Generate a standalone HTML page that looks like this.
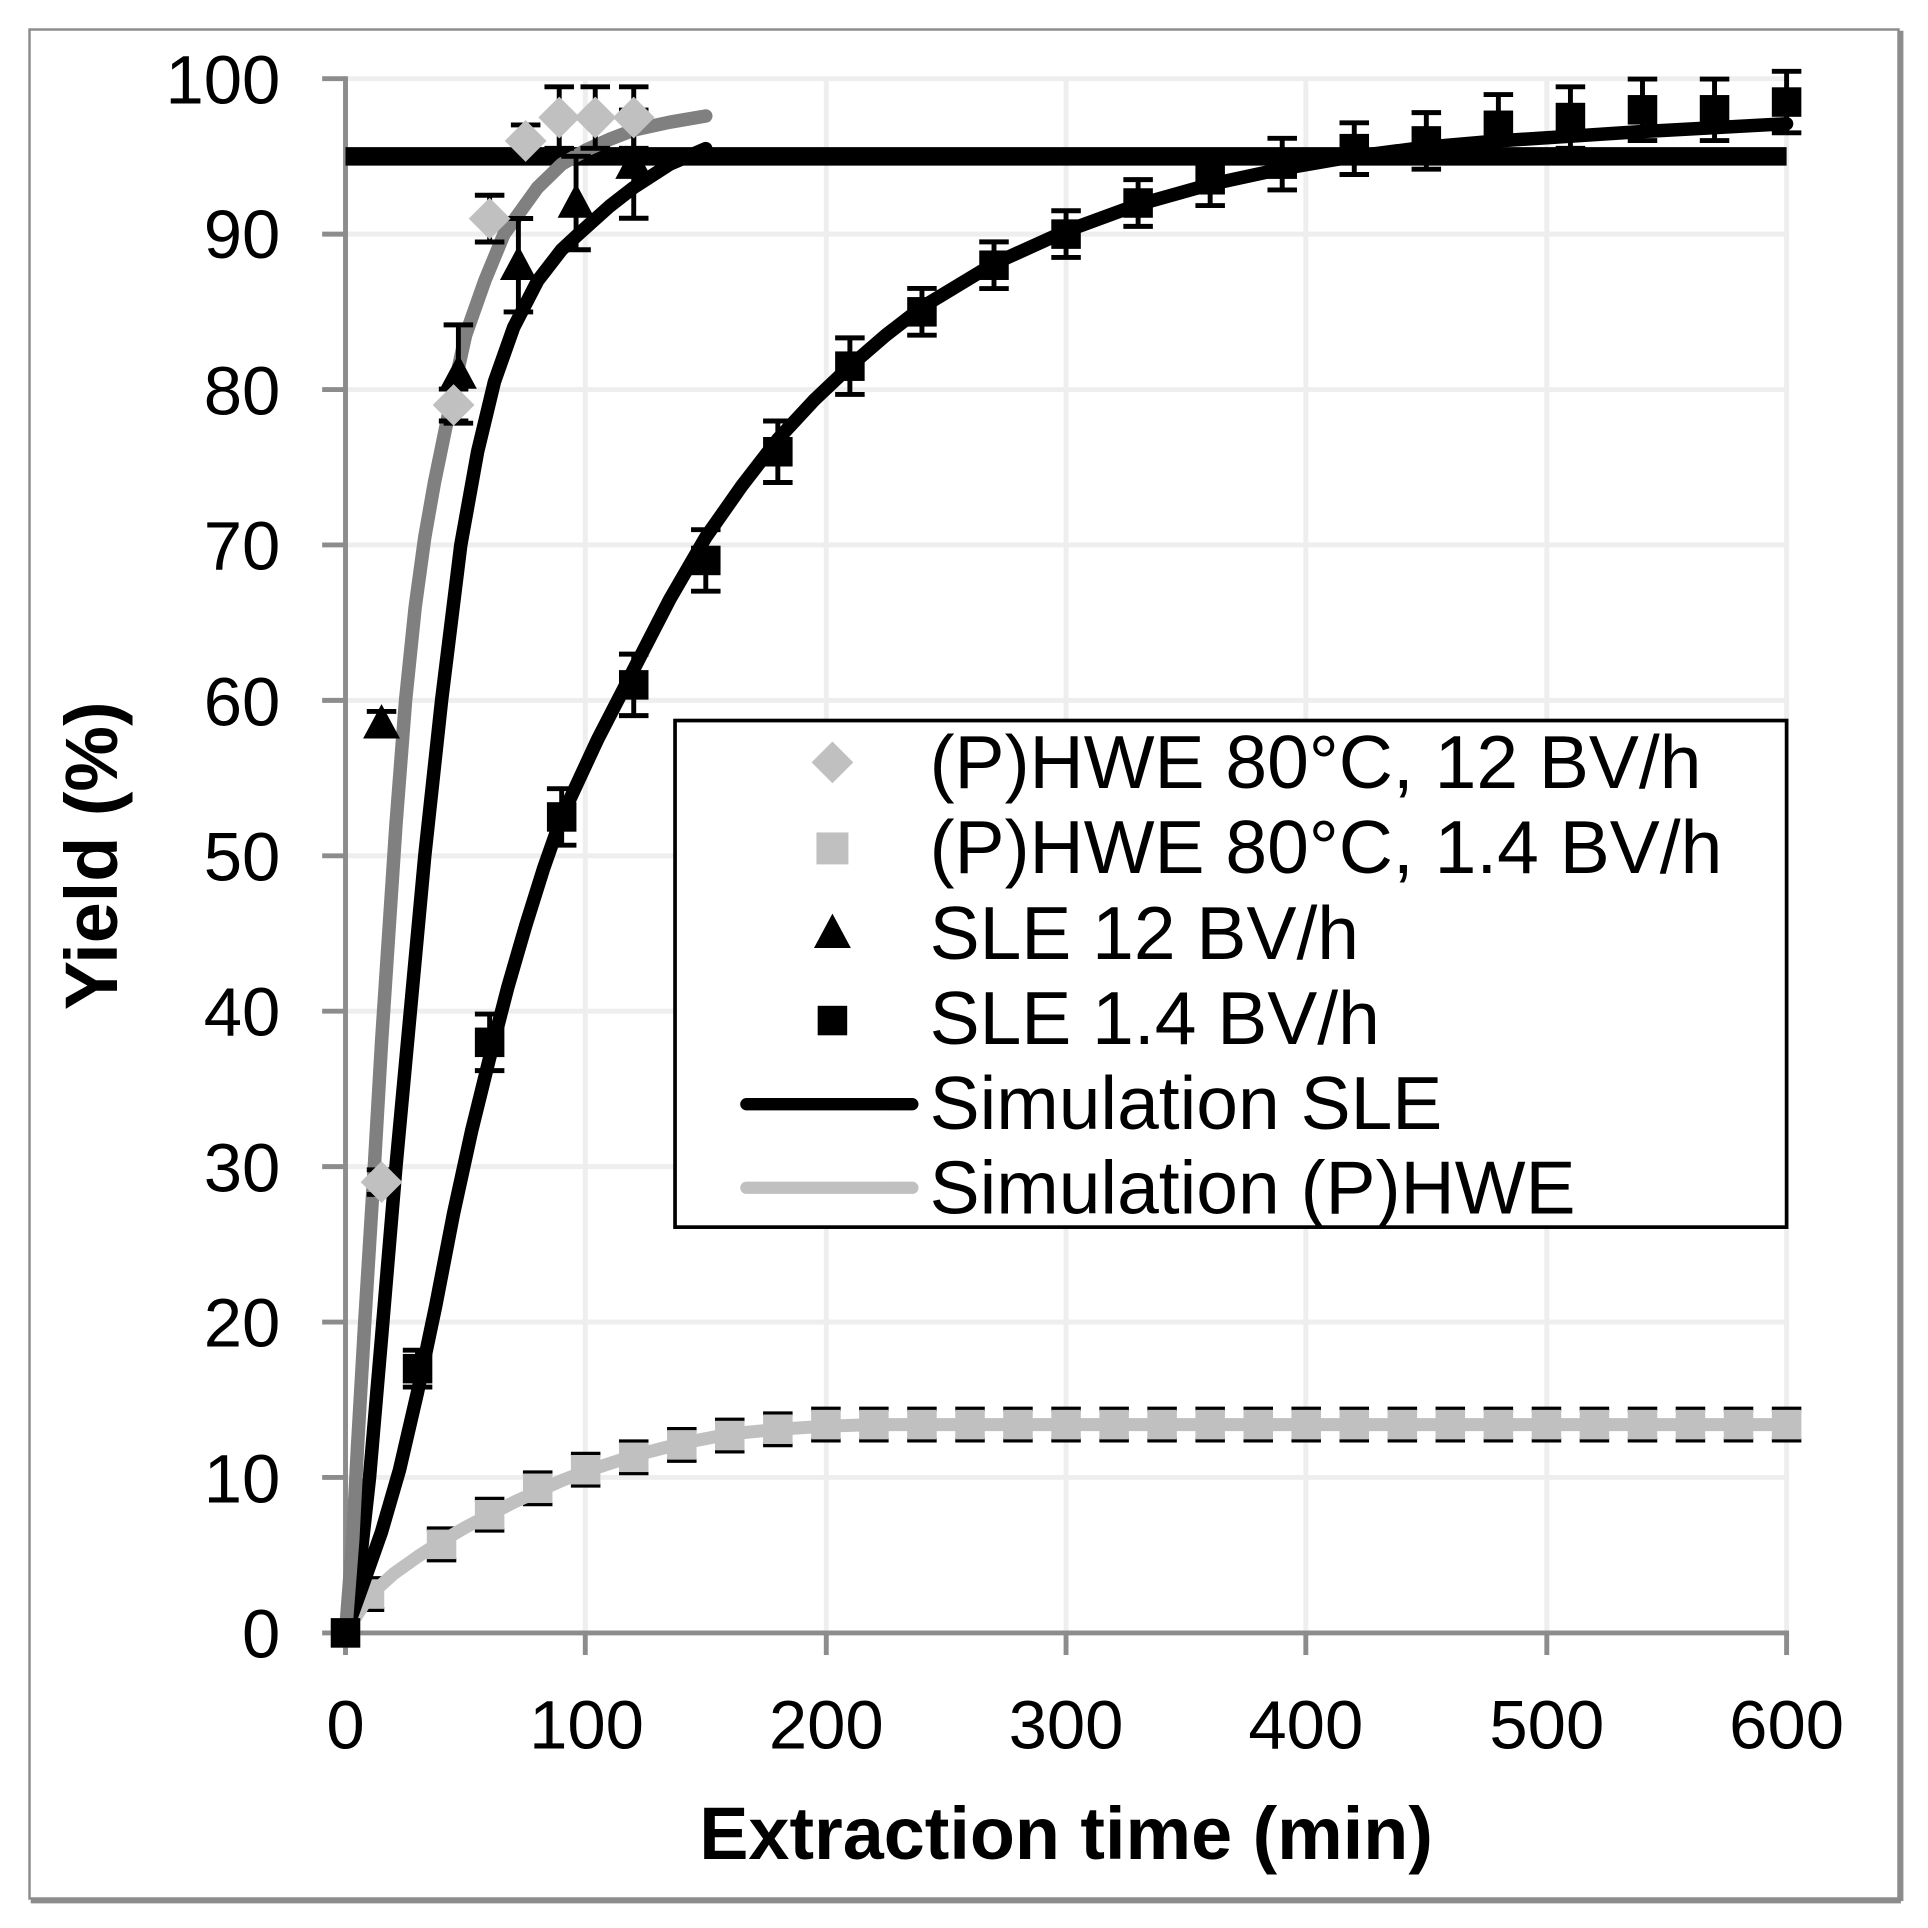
<!DOCTYPE html>
<html><head><meta charset="utf-8"><style>
html,body{margin:0;padding:0;background:#fff;}
svg{display:block;font-family:"Liberation Sans",Arial,sans-serif;}
.c{fill:none;stroke-linejoin:round;stroke-linecap:round;vector-effect:non-scaling-stroke;}
</style></head><body>
<svg width="1928" height="1928" viewBox="0 0 1568 1568" xmlns="http://www.w3.org/2000/svg">
<defs>
<g id="gs"><rect x="-12" y="-12" width="24" height="24" fill="#c0c0c0"/></g>
<g id="bs"><rect x="-12" y="-12" width="24" height="24" fill="#000"/></g>
<g id="tr"><polygon points="0,-16 15,12 -15,12" fill="#000"/></g>
<g id="dm"><polygon points="0,-17 17,0 0,17 -17,0" fill="#c0c0c0"/></g>
<g id="e1"><path d="M-12 -12.6H12M0 -12.6V12.6M-12 12.6H12" stroke="#000" stroke-width="4" fill="none"/></g>
</defs>
<rect x="0" y="0" width="1568" height="1568" fill="#fff"/>
<rect x="24" y="24" width="1520" height="1520" fill="none" stroke="#8c8c8c" stroke-width="2"/>
<line x1="25" y1="1546" x2="1546" y2="1546" stroke="#8c8c8c" stroke-width="4"/>
<line x1="1546" y1="25" x2="1546" y2="1546" stroke="#8c8c8c" stroke-width="4"/>
<g stroke="#eeeeee" stroke-width="4">
<line x1="281" y1="64" x2="1453" y2="64"/><line x1="281" y1="190.4" x2="1453" y2="190.4"/><line x1="281" y1="316.8" x2="1453" y2="316.8"/><line x1="281" y1="443.2" x2="1453" y2="443.2"/><line x1="281" y1="569.6" x2="1453" y2="569.6"/><line x1="281" y1="696" x2="1453" y2="696"/><line x1="281" y1="822.4" x2="1453" y2="822.4"/><line x1="281" y1="948.8" x2="1453" y2="948.8"/><line x1="281" y1="1075.2" x2="1453" y2="1075.2"/><line x1="281" y1="1201.6" x2="1453" y2="1201.6"/>
<line x1="476" y1="64" x2="476" y2="1328"/><line x1="672" y1="64" x2="672" y2="1328"/><line x1="867" y1="64" x2="867" y2="1328"/><line x1="1062" y1="64" x2="1062" y2="1328"/><line x1="1258" y1="64" x2="1258" y2="1328"/><line x1="1453" y1="64" x2="1453" y2="1328"/>
</g>
<g stroke="#8c8c8c" stroke-width="4">
<line x1="281" y1="62" x2="281" y2="1330"/><line x1="279" y1="1328" x2="1455" y2="1328"/>
<line x1="262" y1="64" x2="281" y2="64"/><line x1="262" y1="190.4" x2="281" y2="190.4"/><line x1="262" y1="316.8" x2="281" y2="316.8"/><line x1="262" y1="443.2" x2="281" y2="443.2"/><line x1="262" y1="569.6" x2="281" y2="569.6"/><line x1="262" y1="696" x2="281" y2="696"/><line x1="262" y1="822.4" x2="281" y2="822.4"/><line x1="262" y1="948.8" x2="281" y2="948.8"/><line x1="262" y1="1075.2" x2="281" y2="1075.2"/><line x1="262" y1="1201.6" x2="281" y2="1201.6"/><line x1="262" y1="1328" x2="281" y2="1328"/>
<line x1="281" y1="1328" x2="281" y2="1346"/><line x1="476" y1="1328" x2="476" y2="1346"/><line x1="672" y1="1328" x2="672" y2="1346"/><line x1="867" y1="1328" x2="867" y2="1346"/><line x1="1062" y1="1328" x2="1062" y2="1346"/><line x1="1258" y1="1328" x2="1258" y2="1346"/><line x1="1453" y1="1328" x2="1453" y2="1346"/>
</g>
<g font-size="56" text-anchor="end" fill="#000">
<text x="228" y="84">100</text><text x="228" y="210">90</text><text x="228" y="337">80</text><text x="228" y="463">70</text><text x="228" y="590">60</text><text x="228" y="716">50</text><text x="228" y="842">40</text><text x="228" y="969">30</text><text x="228" y="1095">20</text><text x="228" y="1222">10</text><text x="228" y="1348">0</text>
</g>
<g font-size="56" text-anchor="middle" fill="#000">
<text x="281" y="1422">0</text><text x="477" y="1422">100</text><text x="672" y="1422">200</text><text x="867" y="1422">300</text><text x="1062" y="1422">400</text><text x="1258" y="1422">500</text><text x="1453" y="1422">600</text>
</g>
<text x="867" y="1512" font-size="60" font-weight="bold" text-anchor="middle">Extraction time (min)</text>
<text transform="translate(95 696) rotate(-90)" font-size="60" font-weight="bold" text-anchor="middle">Yield (%)</text>

<use href="#e1" x="300.5" y="1296.4"/><use href="#e1" x="359.1" y="1256"/><use href="#e1" x="398.2" y="1231.9"/><use href="#e1" x="437.3" y="1210.4"/><use href="#e1" x="476.3" y="1195.3"/><use href="#e1" x="515.4" y="1185.2"/><use href="#e1" x="554.5" y="1175.1"/><use href="#e1" x="593.5" y="1167.5"/><use href="#e1" x="632.6" y="1162.4"/>
<use href="#e1" x="671.7" y="1158.6"/><use href="#e1" x="710.7" y="1158.6"/><use href="#e1" x="749.8" y="1158.6"/><use href="#e1" x="788.9" y="1158.6"/><use href="#e1" x="827.9" y="1158.6"/><use href="#e1" x="867" y="1158.6"/><use href="#e1" x="906.1" y="1158.6"/><use href="#e1" x="945.1" y="1158.6"/><use href="#e1" x="984.2" y="1158.6"/><use href="#e1" x="1023.3" y="1158.6"/><use href="#e1" x="1062.3" y="1158.6"/><use href="#e1" x="1101.4" y="1158.6"/><use href="#e1" x="1140.5" y="1158.6"/><use href="#e1" x="1179.5" y="1158.6"/><use href="#e1" x="1218.6" y="1158.6"/><use href="#e1" x="1257.7" y="1158.6"/><use href="#e1" x="1296.7" y="1158.6"/><use href="#e1" x="1335.8" y="1158.6"/><use href="#e1" x="1374.8" y="1158.6"/><use href="#e1" x="1413.9" y="1158.6"/><use href="#e1" x="1453" y="1158.6"/>

<g transform="translate(281 1328) scale(1.9533 -12.64)">
<polyline class="c" stroke="#c0c0c0" stroke-width="13" points="0,0 10,2.4 20,3.8 30,4.9 40,5.9 50,6.8 60,7.6 70,8.4 80,9.1 90,9.8 100,10.4 120,11.4 140,12.2 160,12.8 180,13.1 200,13.3 220,13.4 600,13.4"/>
</g>
<use href="#gs" x="281" y="1328"/><use href="#gs" x="300.5" y="1296.4"/><use href="#gs" x="359.1" y="1256"/><use href="#gs" x="398.2" y="1231.9"/><use href="#gs" x="437.3" y="1210.4"/><use href="#gs" x="476.3" y="1195.3"/><use href="#gs" x="515.4" y="1185.2"/><use href="#gs" x="554.5" y="1175.1"/><use href="#gs" x="593.5" y="1167.5"/><use href="#gs" x="632.6" y="1162.4"/>
<use href="#gs" x="671.7" y="1158.6"/><use href="#gs" x="710.7" y="1158.6"/><use href="#gs" x="749.8" y="1158.6"/><use href="#gs" x="788.9" y="1158.6"/><use href="#gs" x="827.9" y="1158.6"/><use href="#gs" x="867" y="1158.6"/><use href="#gs" x="906.1" y="1158.6"/><use href="#gs" x="945.1" y="1158.6"/><use href="#gs" x="984.2" y="1158.6"/><use href="#gs" x="1023.3" y="1158.6"/><use href="#gs" x="1062.3" y="1158.6"/><use href="#gs" x="1101.4" y="1158.6"/><use href="#gs" x="1140.5" y="1158.6"/><use href="#gs" x="1179.5" y="1158.6"/><use href="#gs" x="1218.6" y="1158.6"/><use href="#gs" x="1257.7" y="1158.6"/><use href="#gs" x="1296.7" y="1158.6"/><use href="#gs" x="1335.8" y="1158.6"/><use href="#gs" x="1374.8" y="1158.6"/><use href="#gs" x="1413.9" y="1158.6"/><use href="#gs" x="1453" y="1158.6"/>

<line x1="281" y1="127.2" x2="1453" y2="127.2" stroke="#000" stroke-width="15"/>
<g transform="translate(281 1328) scale(1.9533 -12.64)">
<polyline class="c" stroke="#000" stroke-width="13.5" points="0,0 7,3 15,6.5 22.5,10.5 30,15.5 37.5,21 45,27 52.5,32.3 60,37 67.5,41.5 75,45.5 82.5,49.2 90,52.5 105,57.5 120,62 135,66.5 150,70.5 165,73.8 180,76.8 195,79.3 210,81.5 225,83.5 240,85.3 270,88.1 300,90.2 330,91.9 360,93.2 390,94.2 420,95 450,95.6 480,96 540,96.6 600,97.1"/>
<polyline class="c" stroke="#000" stroke-width="13.5" points="0,0 5,3 10,10 15,19 21,30 27,40 33,50 40,60 48,70 55,76 62,80.5 70,84 80,87 90,89 97,90 110,91.8 120,93 135,94.5 150,95.5"/>
<polyline class="c" stroke="#808080" stroke-width="13.5" points="0,0 3,6 5,12 8,20 12,30 15,38 18,45 21,52 25,60 29,66 33,70.5 37,74 41,77 45,80 50,83.5 58,87 66,90 80,93 90,94.5 100,95.4 110,96.1 120,96.7 135,97.2 150,97.6"/>
</g>

<g stroke="#000" stroke-width="4" fill="none">
<path d="M327.6 1098.1H351.6M339.6 1098.1V1128.1M327.6 1128.1H351.6"/>
<path d="M386.2 824.7H410.2M398.2 824.7V870.7M386.2 870.7H410.2"/>
<path d="M444.8 641.4H468.8M456.8 641.4V687.4M444.8 687.4H468.8"/>
<path d="M503.4 532H527.4M515.4 532V582M503.4 582H527.4"/>
<path d="M562 430.8H586M574 430.8V480.8M562 480.8H586"/>
<path d="M620.6 342.4H644.6M632.6 342.4V392.4M620.6 392.4H644.6"/>
<path d="M679.2 274.8H703.2M691.2 274.8V320.8M679.2 320.8H703.2"/>
<path d="M737.8 234.6H761.8M749.8 234.6V272.6M737.8 272.6H761.8"/>
<path d="M796.4 196.7H820.4M808.4 196.7V234.7M796.4 234.7H820.4"/>
<path d="M855 171.4H879M867 171.4V209.4M855 209.4H879"/>
<path d="M913.6 146.1H937.6M925.6 146.1V184.1M913.6 184.1H937.6"/>
<path d="M972.2 125.2H996.2M984.2 125.2V167.2M972.2 167.2H996.2"/>
<path d="M1030.8 112.5H1054.8M1042.8 112.5V154.5M1030.8 154.5H1054.8"/>
<path d="M1089.4 99.9H1113.4M1101.4 99.9V141.9M1089.4 141.9H1113.4"/>
<path d="M1148 91.6H1172M1160 91.6V137.6M1148 137.6H1172"/>
<path d="M1206.6 76.9H1230.6M1218.6 76.9V126.9M1206.6 126.9H1230.6"/>
<path d="M1265.2 70.6H1289.2M1277.2 70.6V120.6M1265.2 120.6H1289.2"/>
<path d="M1323.8 64.3H1347.8M1335.8 64.3V114.3M1323.8 114.3H1347.8"/>
<path d="M1382.4 64.3H1406.4M1394.4 64.3V114.3M1382.4 114.3H1406.4"/>
<path d="M1441 58H1465M1453 58V108M1441 108H1465"/>
<path d="M298.3 578.6H322.3M310.3 578.6V598.6M298.3 598.6H322.3"/>
<path d="M360.8 264.2H384.8M372.8 264.2V344.2M360.8 344.2H384.8"/>
<path d="M409.6 177.7H433.6M421.6 177.7V253.7M409.6 253.7H433.6"/>
<path d="M456.5 127.1H480.5M468.5 127.1V203.1M456.5 203.1H480.5"/>
<path d="M503.4 89.5H527.4M515.4 89.5V177.5M503.4 177.5H527.4"/>
<path d="M298.3 951.4H322.3M310.3 951.4V971.4M298.3 971.4H322.3"/>
<path d="M356.9 316.4H380.9M368.9 316.4V342.4M356.9 342.4H380.9"/>
<path d="M386.2 158.8H410.2M398.2 158.8V196.8M386.2 196.8H410.2"/>
<path d="M415.5 101.6H439.5M427.5 101.6V127.6M415.5 127.6H439.5"/>
<path d="M442.8 70.6H466.8M454.8 70.6V120.6M442.8 120.6H466.8"/>
<path d="M472.1 70.6H496.1M484.1 70.6V120.6M472.1 120.6H496.1"/>
<path d="M503.4 70.6H527.4M515.4 70.6V120.6M503.4 120.6H527.4"/>
</g>
<use href="#bs" x="281" y="1328"/><use href="#bs" x="339.6" y="1113.1"/><use href="#bs" x="398.2" y="847.7"/><use href="#bs" x="456.8" y="664.4"/><use href="#bs" x="515.4" y="557"/><use href="#bs" x="574" y="455.8"/><use href="#bs" x="632.6" y="367.4"/><use href="#bs" x="691.2" y="297.8"/><use href="#bs" x="749.8" y="253.6"/><use href="#bs" x="808.4" y="215.7"/><use href="#bs" x="867" y="190.4"/><use href="#bs" x="925.6" y="165.1"/><use href="#bs" x="984.2" y="146.2"/><use href="#bs" x="1042.8" y="133.5"/><use href="#bs" x="1101.4" y="120.9"/><use href="#bs" x="1160" y="114.6"/><use href="#bs" x="1218.6" y="101.9"/><use href="#bs" x="1277.2" y="95.6"/><use href="#bs" x="1335.8" y="89.3"/><use href="#bs" x="1394.4" y="89.3"/><use href="#bs" x="1453" y="83"/>
<use href="#tr" x="310.3" y="588.6"/><use href="#tr" x="372.8" y="304.2"/><use href="#tr" x="421.6" y="215.7"/><use href="#tr" x="468.5" y="165.1"/><use href="#tr" x="515.4" y="133.5"/>
<use href="#dm" x="310.3" y="961.4"/><use href="#dm" x="368.9" y="329.4"/><use href="#dm" x="398.2" y="177.8"/><use href="#dm" x="427.5" y="114.6"/><use href="#dm" x="454.8" y="95.6"/><use href="#dm" x="484.1" y="95.6"/><use href="#dm" x="515.4" y="95.6"/>

<rect x="549" y="586" width="904" height="412" fill="#fff" stroke="#000" stroke-width="3"/>
<rect x="665" y="608" width="24" height="24" fill="#c0c0c0" transform="rotate(45 677 620)"/>
<rect x="664" y="677" width="26" height="26" fill="#c0c0c0"/>
<polygon points="677,743 692,771 662,771" fill="#000"/>
<rect x="665" y="818" width="24" height="24" fill="#000"/>
<line x1="607" y1="898" x2="742" y2="898" stroke="#000" stroke-width="10" stroke-linecap="round"/>
<line x1="607" y1="966" x2="742" y2="966" stroke="#c0c0c0" stroke-width="10" stroke-linecap="round"/>
<g font-size="61" fill="#000">
<text x="756" y="641">(P)HWE 80°C, 12 BV/h</text>
<text x="756" y="710">(P)HWE 80°C, 1.4 BV/h</text>
<text x="756" y="780">SLE 12 BV/h</text>
<text x="756" y="849">SLE 1.4 BV/h</text>
<text x="756" y="918">Simulation SLE</text>
<text x="756" y="987">Simulation (P)HWE</text>
</g>
</svg>
</body></html>
